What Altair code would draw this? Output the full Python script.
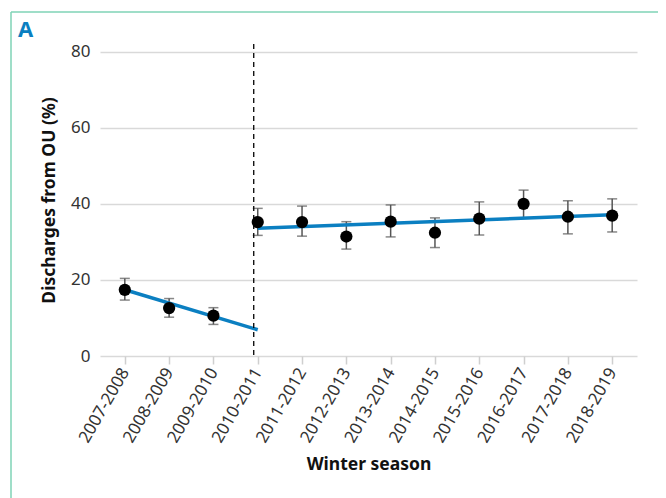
import altair as alt
import pandas as pd

seasons = ["2007-2008", "2008-2009", "2009-2010", "2010-2011", "2011-2012", "2012-2013",
           "2013-2014", "2014-2015", "2015-2016", "2016-2017", "2017-2018", "2018-2019"]
pct = [17.4, 12.6, 10.6, 35.2, 35.2, 31.4, 35.3, 32.4, 36.1, 40.0, 36.6, 36.9]
ci_low = [14.7, 10.2, 8.3, 31.7, 31.5, 28.1, 31.3, 28.5, 31.8, 36.3, 32.1, 32.6]
ci_high = [20.4, 15.1, 12.7, 38.8, 39.4, 35.3, 39.7, 36.3, 40.5, 43.6, 40.8, 41.3]

fit_pre_seasons = ["2007-2008", "2010-2011"]
fit_pre_values = [17.4, 6.9]
fit_post_seasons = ["2010-2011", "2018-2019"]
fit_post_values = [33.6, 37.1]
break_season = ["2010-2011"]
y_ticks = [0, 20, 40, 60, 80]

FONT = "Noto Sans"
BLUE = "#0b7fc1"

df = pd.DataFrame({"season": seasons, "pct": pct, "lo": ci_low, "hi": ci_high})
fit = pd.DataFrame({
    "season": fit_pre_seasons + fit_post_seasons,
    "pct": fit_pre_values + fit_post_values,
    "segment": ["pre"] * len(fit_pre_seasons) + ["post"] * len(fit_post_seasons),
})
brk = pd.DataFrame({"season": break_season})
one = pd.DataFrame({"k": [0]})

x_enc = alt.X("season:N", sort=seasons,
              scale=alt.Scale(type="point", padding=0.56),
              axis=alt.Axis(title="Winter season", labelAngle=300, labelAlign="right",
                            labelBaseline="middle", labelPadding=5, grid=False,
                            domain=False, ticks=True, tickSize=8, tickColor="#cfcfcf",
                            tickWidth=1.5, labelFontSize=17, labelColor="#333",
                            titleFontSize=17.5, titleFontWeight="bold", titlePadding=10,
                            labelFont=FONT, titleFont=FONT, titleColor="#111"))
y_axis = alt.Axis(title="Discharges from OU (%)", values=y_ticks, grid=True,
                  gridColor="#d9d9d9", gridWidth=1.5, domain=False, ticks=False,
                  labelPadding=10, labelFontSize=17, labelColor="#333",
                  titleFontSize=17.5, titleFontWeight="bold", titlePadding=12,
                  labelFont=FONT, titleFont=FONT, titleColor="#111")
y_scale = alt.Scale(domain=[0, 82], nice=False)

base = alt.Chart(df)

err = base.mark_rule(color="#555555", strokeWidth=1.5).encode(
    x=x_enc, y=alt.Y("lo:Q", scale=y_scale, axis=y_axis), y2="hi:Q")
cap_lo = base.mark_tick(color="#555555", thickness=1.5, size=10, orient="horizontal").encode(
    x=x_enc, y="lo:Q")
cap_hi = base.mark_tick(color="#555555", thickness=1.5, size=10, orient="horizontal").encode(
    x=x_enc, y="hi:Q")

lines = alt.Chart(fit).mark_line(color=BLUE, strokeWidth=3.5).encode(
    x=x_enc, y="pct:Q", detail="segment:N")

dash = alt.Chart(brk).mark_rule(color="black", strokeDash=[5, 4], strokeWidth=1.3, xOffset=-4).encode(
    x=x_enc, y=alt.value(0), y2=alt.value(314))

pts = base.mark_circle(size=150, color="black", opacity=1).encode(x=x_enc, y="pct:Q")

border_top = alt.Chart(one).mark_rule(color="#7fd3b6", strokeWidth=1.5).encode(
    x=alt.value(-89), x2=alt.value(570), y=alt.value(-32))
border_left = alt.Chart(one).mark_rule(color="#7fd3b6", strokeWidth=1.5).encode(
    x=alt.value(-89), y=alt.value(-32), y2=alt.value(470))
label_a = alt.Chart(one).mark_text(text="A", font=FONT, fontSize=22, fontWeight="bold",
                                   color=BLUE, align="left", baseline="middle").encode(
    x=alt.value(-82), y=alt.value(-14))

chart = alt.layer(border_top, border_left, label_a, err, cap_lo, cap_hi, lines, dash, pts).properties(
    width=537, height=312,
    autosize=alt.AutoSizeParams(type="none"),
    padding={"left": 92, "top": 36, "right": 21, "bottom": 142},
).configure_view(stroke=None)

chart.save("out.html", embed_options={"renderer": "svg", "actions": False})
